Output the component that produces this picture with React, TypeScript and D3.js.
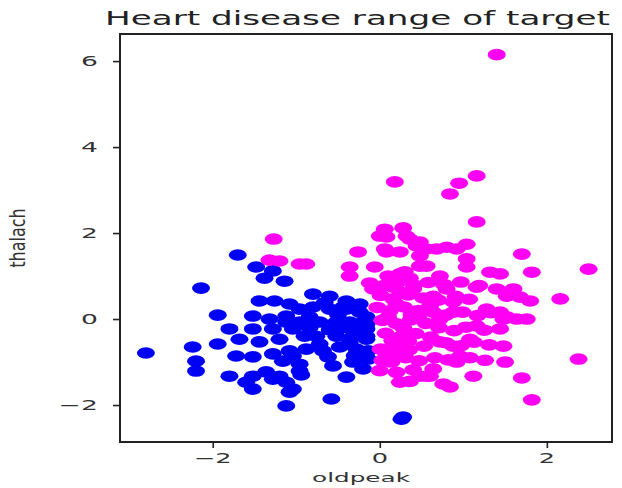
import { useEffect, useRef } from "react"
import * as d3 from "d3"

// oldpeak / thalach pairs
const blueCluster: [number, number][] = [
  [-2.8, -0.79], [-2.24, -0.65], [-2.2, -0.98], [-2.2, -1.21], [-2.14, 0.72], [-1.94, 0.09], [-1.94, -0.58],
  [-1.8, -0.23], [-1.8, -1.33], [-1.7, 1.49], [-1.48, 1.21], [-1.28, 1.12], [-1.38, 0.95], [-1.14, 0.88],
  [-1.44, 0.42], [-1.26, 0.42], [-1.08, 0.35], [-0.8, 0.58], [-0.6, 0.53], [-0.4, 0.42], [-0.44, 0.28],
  [-1.52, 0.07], [-1.32, 0.0], [-1.12, 0.07], [-0.96, 0.23], [-0.8, 0.28], [-0.4, 0.23], [-0.24, 0.16], [-0.16, 0.05],
  [-1.52, -0.23], [-1.28, -0.23], [-1.04, -0.23], [-1.68, -0.47], [-1.44, -0.53], [-1.2, -0.47],
  [-1.12, -0.07], [-0.96, -0.07], [-0.72, -0.07], [-0.52, -0.07], [-0.36, -0.07], [-0.2, -0.07], [-0.16, -0.12],
  [-0.9, -0.4], [-0.76, -0.4], [-0.52, -0.4], [-0.32, -0.4], [-0.16, -0.4],
  [-1.08, -0.74], [-0.88, -0.7], [-0.68, -0.74], [-0.48, -0.65], [-0.28, -0.7], [-0.14, -0.74],
  [-1.72, -0.86], [-1.52, -0.88], [-1.28, -0.81], [-1.04, -0.86],
  [-1.16, -0.98], [-0.96, -1.05], [-0.56, -1.09], [-0.32, -1.0], [-0.14, -0.93],
  [-1.6, -1.47], [-1.52, -1.33], [-1.36, -1.23], [-1.2, -1.33], [-1.52, -1.63], [-1.28, -1.4], [-1.12, -1.47],
  [-1.04, -1.63], [-0.94, -1.3], [-0.96, -1.21], [-0.4, -1.35], [-0.2, -1.16],
  [-1.08, -1.7], [-1.12, -2.02], [-0.58, -1.86], [0.28, -2.28], [0.26, -2.33],
  [-0.72, -0.58], [-0.84, 0.05], [-0.6, 0.23], [-0.28, -0.19], [-0.16, -0.47], [-0.16, -0.23],
  [-0.6, -0.25], [-0.44, -0.2], [-0.36, -0.55], [-0.62, -0.88], [-0.24, 0.35], [-0.5, 0.1], [-0.84, -0.2],
  [-0.3, -0.85], [-0.66, 0.38], [-0.22, -0.32],
]

const magentaCluster: [number, number][] = [
  [1.4, 6.15], [0.18, 3.19], [0.95, 3.16], [1.16, 3.33], [0.84, 2.91], [1.16, 2.26], [-1.27, 1.86],
  [0.06, 2.09], [0.28, 2.12], [0.08, 1.91], [0.36, 1.86], [0.44, 1.7], [-0.26, 1.56], [0.06, 1.63],
  [-1.32, 1.37], [-1.2, 1.35], [-0.96, 1.28], [-0.88, 1.28], [-0.36, 1.21], [-0.06, 1.21], [-0.36, 1.0],
  [0.24, 1.56], [0.48, 1.47], [0.68, 1.63], [0.92, 1.63], [1.04, 1.74], [0.8, 1.67], [1.04, 1.4], [1.04, 1.21],
  [1.7, 1.51], [2.5, 1.16], [1.32, 1.09], [1.44, 1.05], [1.82, 1.09], [2.16, 0.47], [1.6, 0.7], [1.8, 0.42],
  [1.68, 0.51], [1.48, 0.0], [1.64, 0.0], [1.76, 0.0], [2.38, -0.93], [1.5, -1.0], [1.12, -1.33], [1.7, -1.37],
  [0.24, -1.47], [0.56, -1.33], [0.76, -1.51], [0.84, -1.58], [1.82, -1.88], [1.16, 0.74], [1.4, 0.7],
  [1.52, 0.53], [1.52, 0.05], [1.28, 0.23], [1.44, 0.16], [1.16, -0.16], [1.44, -0.23], [0.88, 0.16],
  [0.72, 0.0], [1.08, -0.47], [1.48, -0.63], [0.72, -0.53], [0.88, -0.63], [0.92, -1.0], [0.96, -0.86],
  [0.64, -1.16], [0.6, -1.33], [0.72, 1.0], [0.56, 1.23], [0.56, 1.63], [0.8, 0.7], [0.64, 0.53], [0.88, 0.4],
  [0.64, 0.16], [0.08, 1.56], [0.0, 1.93], [0.32, 1.93], [0.48, 1.79], [0.24, 1.05], [0.48, 1.23],
  [-0.08, 0.7], [0.16, 0.74], [0.4, 0.7], [0.1, 1.0], [0.3, 1.1], [0.36, 0.95], [0.36, -1.45],
  [-0.12, 0.84], [0.05, 0.78], [0.22, 0.86], [0.41, 0.79], [0.58, 0.85], [0.77, 0.8], [0.97, 0.86], [1.19, 0.78],
  [0.01, 0.55], [0.16, 0.47], [0.34, 0.56], [0.52, 0.49], [0.91, 0.53], [1.07, 0.46], [0.25, 0.62], [0.7, 0.44],
  [-0.03, 0.27], [0.12, 0.19], [0.29, 0.28], [0.46, 0.2], [0.6, 0.3], [0.2, 0.35], [0.38, 0.1],
  [0.79, 0.09], [0.99, 0.16], [1.17, 0.08], [1.33, 0.15],
  [0.03, -0.03], [0.2, -0.11], [0.37, -0.02], [0.55, -0.1], [0.1, 0.05], [0.28, -0.2], [0.46, 0.04],
  [0.71, -0.2], [0.89, -0.27], [1.03, -0.19], [1.25, -0.26],
  [0.07, -0.33], [0.25, -0.41], [0.43, -0.34], [0.61, -0.42], [0.15, -0.5], [0.34, -0.52],
  [0.79, -0.55], [0.97, -0.62], [1.13, -0.54], [1.31, -0.6],
  [0.01, -0.7], [0.17, -0.62], [0.35, -0.72], [0.53, -0.63], [0.26, -0.8], [0.08, -0.82],
  [0.03, -0.96], [0.14, -1.0], [0.31, -0.9], [0.47, -0.97], [0.66, -0.9], [0.82, -0.95], [1.08, -0.9], [1.26, -0.96],
  [0.0, -1.2], [0.2, -1.24], [0.4, -1.18], [0.48, -1.33],
]

const xTicks = [-2, 0, 2]
const yTicks = [-2, 0, 2, 4, 6]
const xDomain: [number, number] = [-3.11, 2.78]
const yDomain: [number, number] = [-2.86, 6.63]

const title = "Heart disease range of target"
const xLabel = "oldpeak"
const yLabel = "thalach"

export default function App() {
  const svgRef = useRef<SVGSVGElement>(null)

  useEffect(() => {
    if (!svgRef.current) return
    const width = 622
    const height = 488
    const margin = { top: 34, right: 10, bottom: 46, left: 120 }

    const svg = d3.select(svgRef.current).attr("width", width).attr("height", height)
    svg.selectAll("*").remove()

    const x = d3.scaleLinear().domain(xDomain).range([margin.left, width - margin.right])
    const y = d3.scaleLinear().domain(yDomain).range([height - margin.bottom, margin.top])

    const font = "DejaVu Sans, sans-serif"
    const stretch = 1.9 // text in the picture is squeezed wide

    // points, blue first then magenta on top
    const groups = [
      { pts: blueCluster, color: "#0000f5" },
      { pts: magentaCluster, color: "#ff00f5" },
    ]
    groups.forEach((g) => {
      svg
        .append("g")
        .selectAll("ellipse")
        .data(g.pts)
        .enter()
        .append("ellipse")
        .attr("cx", (d) => x(d[0]))
        .attr("cy", (d) => y(d[1]))
        .attr("rx", 9)
        .attr("ry", 5.8)
        .attr("fill", g.color)
    })

    // frame
    svg
      .append("rect")
      .attr("x", margin.left)
      .attr("y", margin.top)
      .attr("width", width - margin.left - margin.right)
      .attr("height", height - margin.top - margin.bottom)
      .attr("fill", "none")
      .attr("stroke", "#222")
      .attr("stroke-width", 2)

    // x axis
    const xAxis = svg
      .append("g")
      .attr("transform", `translate(0,${height - margin.bottom})`)
      .call(d3.axisBottom(x).tickValues(xTicks).tickSize(6).tickFormat(() => ""))
    xAxis.select(".domain").remove()
    xAxis.selectAll("line").attr("stroke", "#222").attr("stroke-width", 1.6)

    svg
      .append("g")
      .selectAll("text")
      .data(xTicks)
      .enter()
      .append("text")
      .attr("transform", (d) => `translate(${x(d)},${height - margin.bottom + 21}) scale(${stretch},1)`)
      .attr("text-anchor", "middle")
      .attr("font-family", font)
      .attr("font-size", 13.5)
      .attr("fill", "#333")
      .text((d) => (d < 0 ? `\u2212${Math.abs(d)}` : `${d}`))

    // y axis
    const yAxis = svg
      .append("g")
      .attr("transform", `translate(${margin.left},0)`)
      .call(d3.axisLeft(y).tickValues(yTicks).tickSize(7).tickFormat(() => ""))
    yAxis.select(".domain").remove()
    yAxis.selectAll("line").attr("stroke", "#222").attr("stroke-width", 1.6)

    svg
      .append("g")
      .selectAll("text")
      .data(yTicks)
      .enter()
      .append("text")
      .attr("transform", (d) => `translate(${margin.left - 22},${y(d) + 5}) scale(${stretch},1)`)
      .attr("text-anchor", "end")
      .attr("font-family", font)
      .attr("font-size", 14)
      .attr("fill", "#333")
      .text((d) => (d < 0 ? `\u2212${Math.abs(d)}` : `${d}`))

    // labels
    svg
      .append("text")
      .attr("transform", `translate(${(margin.left + width - margin.right) / 2 - 5},${height - 6}) scale(${stretch},1)`)
      .attr("text-anchor", "middle")
      .attr("font-family", font)
      .attr("font-size", 13)
      .attr("fill", "#333")
      .text(xLabel)

    svg
      .append("text")
      .attr("transform", `translate(25,${(margin.top + height - margin.bottom) / 2}) scale(1.35,1) rotate(-90)`)
      .attr("text-anchor", "middle")
      .attr("font-family", font)
      .attr("font-size", 16)
      .attr("fill", "#333")
      .text(yLabel)

    svg
      .append("text")
      .attr("x", 105)
      .attr("y", 25)
      .attr("textLength", 505)
      .attr("lengthAdjust", "spacingAndGlyphs")
      .attr("font-family", font)
      .attr("font-size", 19)
      .attr("fill", "#222")
      .text(title)
  }, [])

  return (
    <div style={{ position: "absolute", left: 0, top: 0, background: "#fff" }}>
      <svg ref={svgRef} style={{ display: "block" }}></svg>
    </div>
  )
}
